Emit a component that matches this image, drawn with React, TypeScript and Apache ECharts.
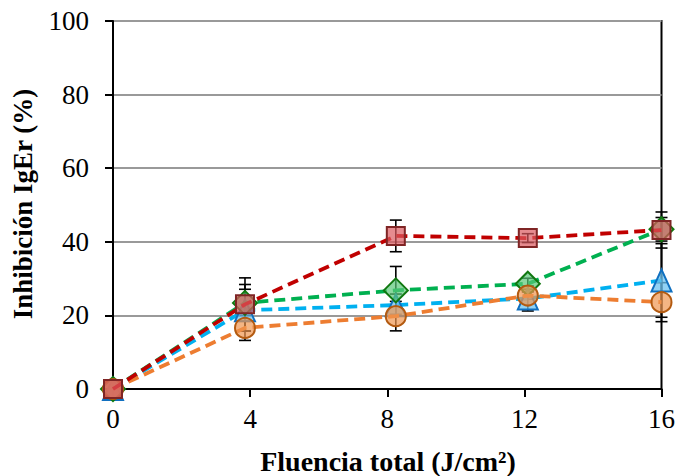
import React, { useEffect, useRef } from "react";
import * as echarts from "echarts";

const xVals = [0, 3.85, 8.25, 12.1, 16];
const redVals = [0, 23.0, 41.6, 41.0, 43.2];
const redErr = [0, 7.2, 4.3, 1.2, 4.9];
const greenVals = [0, 23.4, 26.8, 28.6, 43.4];
const greenErr = [0, 5.0, 6.5, 1.5, 3.2];
const blueVals = [0, 21.4, 22.8, 24.6, 29.5];
const blueErr = [0, 5.7, 3.0, 3.4, 10.0];
const orangeVals = [0, 16.6, 19.8, 25.4, 23.6];
const orangeErr = [0, 3.4, 4.0, 1.0, 5.3];

const yTitle = "Inhibición IgEr (%)";
const xTitle = "Fluencia total (J/cm²)";

const FONT = "'Liberation Serif', 'Times New Roman', serif";

type S = {
  name: string;
  vals: number[];
  err: number[];
  line: string;
  fill: string;
  border: string;
  symbol: string;
  size: number | number[];
};

const seriesDefs: S[] = [
  { name: "blue", vals: blueVals, err: blueErr, line: "#00B0F0", fill: "rgba(110,195,240,0.75)", border: "#1070C0", symbol: "triangle", size: [20, 22] },
  { name: "green", vals: greenVals, err: greenErr, line: "#00B050", fill: "rgba(90,200,120,0.7)", border: "#107810", symbol: "diamond", size: [24, 24] },
  { name: "orange", vals: orangeVals, err: orangeErr, line: "#ED7D31", fill: "rgba(240,150,80,0.7)", border: "#B35A10", symbol: "circle", size: 20 },
  { name: "red", vals: redVals, err: redErr, line: "#C00000", fill: "rgba(220,90,95,0.7)", border: "#7F2525", symbol: "rect", size: 18 },
];

export default function App() {
  const ref = useRef<HTMLDivElement>(null);
  useEffect(() => {
    if (!ref.current) return;
    const chart = echarts.init(ref.current, undefined, { renderer: "svg" });
    const series: any[] = [];
    seriesDefs.forEach((s, si) => {
      series.push({
        type: "custom",
        name: s.name + "-err",
        z: 3,
        data: xVals.map((x, i) => [x, s.vals[i], s.err[i]]),
        renderItem: (params: any, api: any) => {
          const x = api.value(0);
          const y = api.value(1);
          const e = api.value(2);
          if (!e) return null;
          const top = api.coord([x, y + e]);
          const bot = api.coord([x, y - e]);
          const hw = 6;
          const st = { stroke: "#000", lineWidth: 1.6 };
          return {
            type: "group",
            children: [
              { type: "line", shape: { x1: top[0], y1: top[1], x2: bot[0], y2: bot[1] }, style: st },
              { type: "line", shape: { x1: top[0] - hw, y1: top[1], x2: top[0] + hw, y2: top[1] }, style: st },
              { type: "line", shape: { x1: bot[0] - hw, y1: bot[1], x2: bot[0] + hw, y2: bot[1] }, style: st },
            ],
          };
        },
      });
      series.push({
        type: "line",
        name: s.name,
        z: 4 + si,
        data: xVals.map((x, i) => [x, s.vals[i]]),
        symbol: s.symbol,
        symbolSize: s.size,
        lineStyle: { color: s.line, width: 3.8, type: [11, 6] },
        itemStyle: { color: s.fill, borderColor: s.border, borderWidth: 2 },
      });
    });
    chart.setOption({
      animation: false,
      grid: { left: 113, right: 16, top: 21, bottom: 87, show: true, borderColor: "#000", borderWidth: 2, backgroundColor: "transparent" },
      xAxis: {
        type: "value",
        min: 0,
        max: 16,
        interval: 4,
        axisLine: { show: true, lineStyle: { color: "#000", width: 2 } },
        axisTick: { show: true, inside: false, length: 8, lineStyle: { color: "#000", width: 2 } },
        axisLabel: { color: "#000", fontFamily: FONT, fontSize: 27, margin: 16 },
        splitLine: { show: false },
      },
      yAxis: {
        type: "value",
        min: 0,
        max: 100,
        interval: 20,
        axisLine: { show: true, lineStyle: { color: "#000", width: 2 } },
        axisTick: { show: true, inside: false, length: 8, lineStyle: { color: "#000", width: 2 } },
        axisLabel: { color: "#000", fontFamily: FONT, fontSize: 27, margin: 24 },
        splitLine: { show: true, lineStyle: { color: "#999", width: 2 } },
      },
      graphic: [
        {
          type: "text",
          x: 23,
          y: 204,
          rotation: Math.PI / 2,
          style: { text: yTitle, fontFamily: FONT, fontWeight: "bold", fontSize: 27, fill: "#000", align: "center", verticalAlign: "middle" },
        },
        {
          type: "text",
          x: 388,
          y: 461,
          style: { text: xTitle, fontFamily: FONT, fontWeight: "bold", fontSize: 28, fill: "#000", align: "center", verticalAlign: "middle" },
        },
      ],
      series,
    });
    return () => chart.dispose();
  }, []);
  return <div ref={ref} style={{ width: 678, height: 476, position: "absolute", left: 0, top: 0 }} />;
}
